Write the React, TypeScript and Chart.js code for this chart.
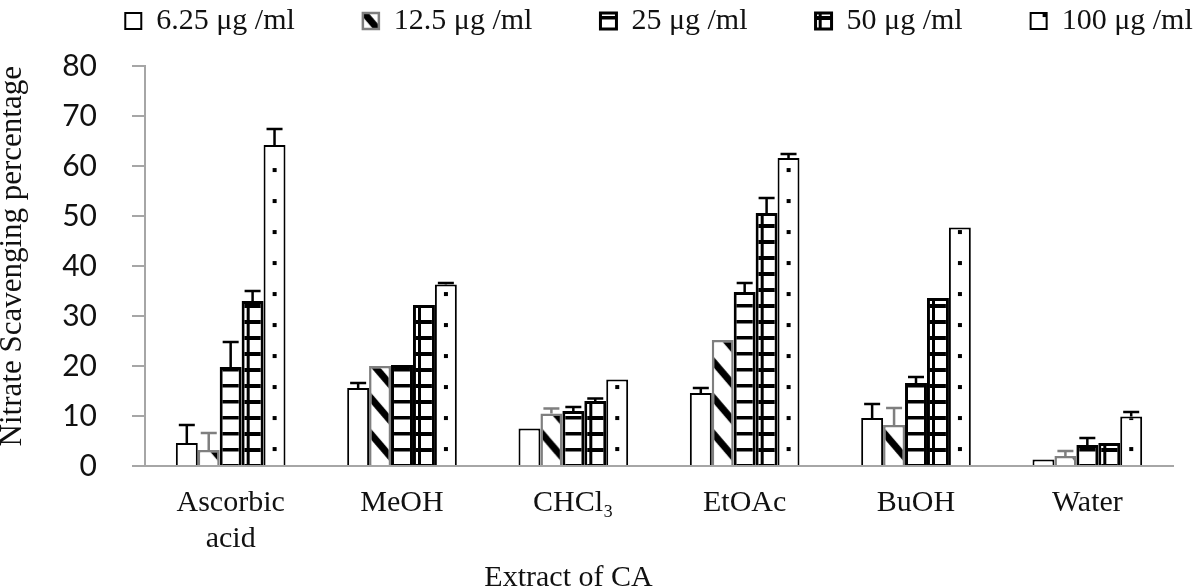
import React, { useEffect, useRef } from 'react';
import { Chart, registerables } from 'chart.js';

Chart.register(...registerables);

// ---- data ----
const categories: (string | string[])[] = [['Ascorbic', 'acid'], 'MeOH', 'CHCl₃', 'EtOAc', 'BuOH', 'Water'];
const seriesLabels = ['6.25 μg /ml', '12.5 μg /ml', '25 μg /ml', '50 μg /ml', '100 μg /ml'];

const v625 = [4.6, 15.6, 7.5, 14.6, 9.6, 1.3];
const v125 = [3.2, 20.0, 10.5, 25.2, 8.2, 2.0];
const v25 = [19.8, 20.2, 11.0, 34.8, 16.6, 4.2];
const v50 = [33.0, 32.2, 13.0, 50.6, 33.6, 4.6];
const v100 = [64.2, 36.3, 17.3, 61.6, 47.7, 9.9];

const e625 = [3.6, 1.0, 0, 1.0, 2.8, 0];
const e125 = [3.4, 0, 1.0, 0, 3.4, 1.0];
const e25 = [5.0, 0, 0.8, 1.8, 1.2, 1.4];
const e50 = [2.0, 0, 0.5, 3.0, 0, 0];
const e100 = [3.2, 0.3, 0, 0.8, 0, 0.9];

const yMin = 0;
const yMax = 80;
const yStep = 10;

const values = [v625, v125, v25, v50, v100];
const errors = [e625, e125, e25, e50, e100];

const borderColors = ['#000000', '#7f7f7f', '#000000', '#000000', '#000000'];
const borderWidths = [2, 2.5, 3, 3, 2];

const CAT_PCT = 0.64;
const LEGEND_PAD = 68;
const LEGEND_H = 66;
const LEGEND_SHIFT = 62;

function makeTile(w: number, h: number, draw: (g: CanvasRenderingContext2D, w: number, h: number) => void) {
  const c = document.createElement('canvas');
  c.width = w;
  c.height = h;
  const g = c.getContext('2d')!;
  g.fillStyle = '#ffffff';
  g.fillRect(0, 0, w, h);
  g.fillStyle = '#000000';
  g.strokeStyle = '#000000';
  draw(g, w, h);
  return c;
}

export default function App() {
  const ref = useRef<HTMLCanvasElement>(null);

  useEffect(() => {
    document.body.style.margin = '0';
    const canvas = ref.current!;
    const ctx = canvas.getContext('2d')!;

    const tiles: (HTMLCanvasElement | null)[] = [
      null,
      makeTile(31, 36, (g, w, h) => {
        g.lineWidth = 7;
        for (let k = -2; k <= 2; k++) {
          g.beginPath();
          g.moveTo(-w, k * h - h);
          g.lineTo(2 * w, k * h + 2 * h);
          g.stroke();
        }
      }),
      makeTile(22, 16, (g, w) => {
        g.fillRect(0, 0, w, 3.5);
      }),
      makeTile(22, 16, (g, w, h) => {
        g.fillRect(0, 0, w, 4);
        g.fillRect(5, 0, 3, h);
      }),
      makeTile(22, 31, (g) => {
        g.fillRect(9, 13, 4, 4);
      }),
    ];

    const nCat = categories.length;
    const nSer = seriesLabels.length;

    const bg = (si: number) => (c: any) => {
      const tile = tiles[si];
      if (!tile) return '#ffffff';
      const pat = ctx.createPattern(tile, 'repeat')!;
      if (c.type === 'data') {
        const xs = c.chart.scales.x;
        if (xs && xs.width > 0) {
          const cw = xs.width / nCat;
          const left = xs.getPixelForValue(c.dataIndex) - (cw * CAT_PCT) / 2 + (si * cw * CAT_PCT) / nSer;
          if (isFinite(left)) pat.setTransform(new DOMMatrix([1, 0, 0, 1, left, 0]));
        }
      }
      return pat;
    };

    const errorBars = {
      id: 'errorBars',
      afterDatasetsDraw(chart: any) {
        const ys = chart.scales.y;
        const g = chart.ctx as CanvasRenderingContext2D;
        chart.data.datasets.forEach((ds: any, di: number) => {
          const meta = chart.getDatasetMeta(di);
          const errs = errors[di];
          meta.data.forEach((el: any, i: number) => {
            const e = errs[i];
            if (!e) return;
            const v = ds.data[i];
            const yTop = ys.getPixelForValue(v + e);
            const x = el.x;
            g.save();
            g.strokeStyle = borderColors[di];
            g.lineWidth = 2.5;
            g.beginPath();
            g.moveTo(x, el.y);
            g.lineTo(x, yTop);
            g.moveTo(x - 8, yTop);
            g.lineTo(x + 8, yTop);
            g.stroke();
            g.restore();
          });
        });
      },
    };

    // legend: wide horizontal gaps (padding) but compact height
    const legendFix = {
      id: 'legendFix',
      beforeLayout(chart: any) {
        const lg = chart.legend;
        if (!lg || lg.__fixed) return;
        lg.__fixed = true;
        const origFit = lg.fit;
        const origDraw = lg.draw;
        lg.fit = function (this: any) {
          origFit.call(this);
          this.height = LEGEND_H;
        };
        lg.draw = function (this: any, ...args: any[]) {
          const saved = { top: this.top, bottom: this.bottom, height: this.height };
          this.top = saved.top - LEGEND_SHIFT;
          this.height = 220;
          this.bottom = this.top + this.height;
          origDraw.apply(this, args);
          this.top = saved.top;
          this.bottom = saved.bottom;
          this.height = saved.height;
        };
      },
      afterLayout(chart: any) {
        const lg = chart.legend;
        const ca = chart.chartArea;
        if (!lg || !ca) return;
        lg.left = ca.left - 150;
        lg.right = ca.right + 150;
        lg.width = lg.right - lg.left;
      },
    };

    const serif = "'Liberation Serif', 'Times New Roman', serif";

    const chart = new Chart(canvas, {
      type: 'bar',
      data: {
        labels: categories as any,
        datasets: seriesLabels.map((label, si) => ({
          label,
          data: values[si],
          backgroundColor: bg(si) as any,
          borderColor: borderColors[si],
          borderWidth: borderWidths[si],
          borderSkipped: 'start' as const,
          categoryPercentage: CAT_PCT,
          barPercentage: 1,
        })),
      },
      options: {
        responsive: false,
        animation: false,
        devicePixelRatio: 1,
        layout: { padding: { left: -36, right: 27, top: 0, bottom: -8 } },
        plugins: {
          legend: {
            position: 'top',
            align: 'center',
            labels: {
              boxWidth: 16,
              boxHeight: 16,
              padding: LEGEND_PAD,
              color: '#111111',
              font: { family: serif, size: 30 },
            },
          } as any,
          title: {
            display: true,
            position: 'bottom',
            text: 'Extract of CA',
            color: '#111111',
            font: { family: serif, size: 30, weight: 'normal' },
            padding: 0,
          },
          tooltip: { enabled: false },
        },
        scales: {
          x: {
            grid: { display: false, drawTicks: false },
            border: { display: true, color: '#a6a6a6', width: 2 },
            ticks: {
              padding: 20,
              color: '#111111',
              font: { family: serif, size: 30, lineHeight: 1.17 },
              maxRotation: 0,
              autoSkip: false,
            },
            afterFit: (s: any) => {
              s.height = 94;
            },
          },
          y: {
            min: yMin,
            max: yMax,
            ticks: {
              stepSize: yStep,
              padding: 35,
              color: '#111111',
              font: { family: 'Lato', size: 30 },
            },
            grid: {
              drawOnChartArea: false,
              drawTicks: true,
              tickLength: 13,
              color: '#a6a6a6',
              lineWidth: 2,
            },
            border: { display: true, color: '#a6a6a6', width: 2 },
            title: {
              display: true,
              text: 'Nitrate Scavenging percentage',
              align: 'end',
              color: '#111111',
              font: { family: serif, size: 31 },
              padding: { top: 30, bottom: 0 },
            },
            afterFit: (s: any) => {
              s.width = 181;
            },
          },
        },
      },
      plugins: [errorBars, legendFix],
    });

    return () => {
      chart.destroy();
    };
  }, []);

  return (
    <div style={{ width: 1200, height: 588, position: 'relative' }}>
      <canvas ref={ref} width={1200} height={588} style={{ display: 'block' }} />
    </div>
  );
}
